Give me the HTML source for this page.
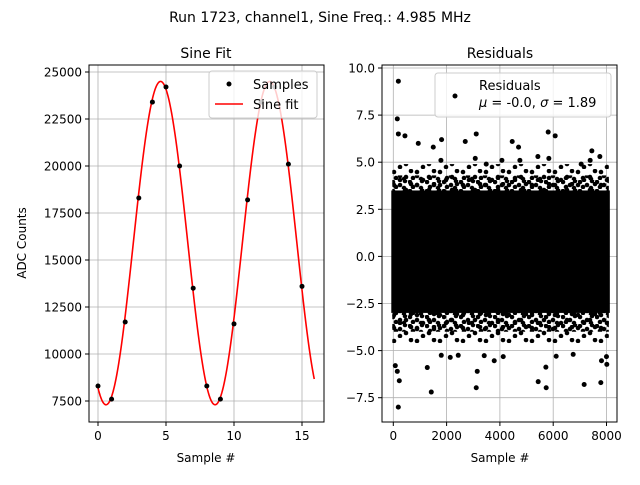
<!DOCTYPE html>
<html><head><meta charset="utf-8"><style>
body{margin:0;background:#fff;font-family:"Liberation Sans","DejaVu Sans",sans-serif}
svg text{font-family:"DejaVu Sans","Liberation Sans",sans-serif}
</style></head><body>
<svg id="c" width="640" height="480" viewBox="0 0 640 480" xmlns="http://www.w3.org/2000/svg">
<defs>
<pattern id="fz" width="17" height="9" patternUnits="userSpaceOnUse"><circle cx="2" cy="2" r="2.3" fill="#000"/><circle cx="9" cy="5" r="2.3" fill="#000"/><circle cx="14" cy="1" r="2.3" fill="#000"/><circle cx="5" cy="7" r="2.3" fill="#000"/><circle cx="13" cy="8" r="2.3" fill="#000"/></pattern>
<pattern id="fz2" width="23" height="13" patternUnits="userSpaceOnUse"><circle cx="3" cy="3" r="2.3" fill="#000"/><circle cx="15" cy="8" r="2.3" fill="#000"/><circle cx="9" cy="11" r="2.3" fill="#000"/><circle cx="20" cy="2" r="2.3" fill="#000"/></pattern>
</defs>
<rect width="640" height="480" fill="#fff"/>
<text x="320" y="22" text-anchor="middle" font-size="14">Run 1723, channel1, Sine Freq.: 4.985 MHz</text>
<g id="L"></g><g id="R"></g>
</svg>
<script>
const sampleX=[0,1,2,3,4,5,6,7,8,9,10,11,12,13,14,15];
const sampleY=[8300,7600,11700,18300,23400,24200,20000,13500,8300,7600,11600,18200,23400,24200,20100,13600];
const fitAmp=[8600];const fitOffset=[15900];const fitPeriod=[8.02];const fitPeak=[4.6];
const xTicksL=[0,5,10,15];const yTicksL=[7500,10000,12500,15000,17500,20000,22500,25000];
const xTicksR=[0,2000,4000,6000,8000];const yTicksR=[-7.5,-5,-2.5,0,2.5,5,7.5,10];
const yTickLabR=["−7.5","−5.0","−2.5","0.0","2.5","5.0","7.5","10.0"];
const coreBand=[-3.0,3.5];const fuzzBand=[-4.0,4.3];const fuzzBand2=[-4.6,4.9];const resXRange=[0,8050];
const outX=[190,150,190,437,937,1500,1812,2700,3112,4462,4700,5812,6075,7450,7750,1787,3075,3487,4075,4750,5425,5837,7050,7387,188,225,1275,1425,3112,3150,1800,2137,2437,3412,3787,4125,5437,5737,5725,6112,6750,7162,7787,7812,8012,7999,75,150];
const outY=[9.3,7.3,6.5,6.4,6.0,5.8,6.2,6.1,6.5,6.1,5.8,6.6,6.4,5.6,5.3,5.1,5.2,4.9,5.1,5.1,5.3,5.2,4.9,5.1,-8.0,-6.6,-5.9,-7.2,-6.97,-6.1,-5.25,-5.36,-5.25,-5.27,-5.54,-5.32,-6.65,-6.97,-5.88,-5.3,-5.2,-6.8,-6.7,-5.54,-5.73,-5.32,-5.8,-6.1];
const NS="http://www.w3.org/2000/svg";
function mk(p,t,a){const e=document.createElementNS(NS,t);for(const k in a)e.setAttribute(k,a[k]);p.appendChild(e);return e;}
const L=document.getElementById('L');
const lx=v=>98+v*13.6, ly=v=>401-(v-7500)*(47/2500);
const Lb={x0:89,x1:324,y0:65,y1:422};
mk(L,'rect',{x:Lb.x0,y:Lb.y0,width:Lb.x1-Lb.x0,height:Lb.y1-Lb.y0,fill:'#fff'});
xTicksL.forEach(v=>{const g=mk(L,'line',{x1:lx(v),x2:lx(v),y1:Lb.y0,y2:Lb.y1,stroke:'#b0b0b0','stroke-width':0.8});

mk(L,'line',{x1:lx(v),x2:lx(v),y1:Lb.y1,y2:Lb.y1+4,stroke:'#000'});
const t=mk(L,'text',{x:lx(v),y:Lb.y1+18,'text-anchor':'middle','font-size':12});t.textContent=v;
});
yTicksL.forEach(v=>{const g=mk(L,'line',{x1:Lb.x0,x2:Lb.x1,y1:ly(v),y2:ly(v),stroke:'#b0b0b0','stroke-width':0.8});

mk(L,'line',{x1:Lb.x0-4,x2:Lb.x0,y1:ly(v),y2:ly(v),stroke:'#000'});
const t=mk(L,'text',{x:Lb.x0-7,y:ly(v)+4.5,'text-anchor':'end','font-size':12});t.textContent=v;
});
let d='';for(let i=0;i<=300;i++){const x=15.9*i/300;const y=fitOffset[0]+fitAmp[0]*Math.cos(2*Math.PI*(x-fitPeak[0])/fitPeriod[0]);d+=(i?'L':'M')+lx(x).toFixed(2)+' '+ly(y).toFixed(2);}
const fl=mk(L,'path',{d:d,fill:'none',stroke:'#f00','stroke-width':1.6});

sampleX.forEach((x,i)=>{const c=mk(L,'circle',{cx:lx(x),cy:ly(sampleY[i]),r:2.5,fill:'#000'});
});
const lg=mk(L,'g',{});
mk(lg,'rect',{x:209,y:71,width:108,height:47,rx:3,fill:'#fff','fill-opacity':0.8,stroke:'#ccc'});
mk(lg,'circle',{cx:229,cy:84,r:2.5,fill:'#000'});
let t=mk(lg,'text',{x:253,y:89,'font-size':13});t.textContent='Samples';
mk(lg,'line',{x1:215,x2:243,y1:104,y2:104,stroke:'#f00','stroke-width':1.6});
t=mk(lg,'text',{x:253,y:109,'font-size':13});t.textContent='Sine fit';
mk(L,'rect',{x:Lb.x0,y:Lb.y0,width:Lb.x1-Lb.x0,height:Lb.y1-Lb.y0,fill:'none',stroke:'#000','stroke-width':1});
t=mk(L,'text',{x:206,y:58,'text-anchor':'middle','font-size':14});t.textContent='Sine Fit';

t=mk(L,'text',{x:206,y:462,'text-anchor':'middle','font-size':12});t.textContent='Sample #';

t=mk(L,'text',{x:26,y:243,'text-anchor':'middle','font-size':12,transform:'rotate(-90 26 243)'});t.textContent='ADC Counts';

const R=document.getElementById('R');
const rx=v=>393.3+v*(53.3/2000), ry=v=>68+(10-v)*18.84;
const Rb={x0:382,x1:617,y0:65,y1:422};
mk(R,'rect',{x:Rb.x0,y:Rb.y0,width:Rb.x1-Rb.x0,height:Rb.y1-Rb.y0,fill:'#fff'});
xTicksR.forEach(v=>{const g=mk(R,'line',{x1:rx(v),x2:rx(v),y1:Rb.y0,y2:Rb.y1,stroke:'#b0b0b0','stroke-width':0.8});

mk(R,'line',{x1:rx(v),x2:rx(v),y1:Rb.y1,y2:Rb.y1+4,stroke:'#000'});
const t=mk(R,'text',{x:rx(v),y:Rb.y1+18,'text-anchor':'middle','font-size':12});t.textContent=v;
});
yTicksR.forEach((v,i)=>{const g=mk(R,'line',{x1:Rb.x0,x2:Rb.x1,y1:ry(v),y2:ry(v),stroke:'#b0b0b0','stroke-width':0.8});

mk(R,'line',{x1:Rb.x0-4,x2:Rb.x0,y1:ry(v),y2:ry(v),stroke:'#000'});
const t=mk(R,'text',{x:Rb.x0-7,y:ry(v)+4.5,'text-anchor':'end','font-size':12});t.textContent=yTickLabR[i];
});
const bw=rx(resXRange[1])-rx(resXRange[0]);
const fz2=mk(R,'rect',{x:rx(resXRange[0])-1,y:ry(fuzzBand2[1]),width:bw+2,height:ry(fuzzBand2[0])-ry(fuzzBand2[1]),fill:'url(#fz2)'});

const fz=mk(R,'rect',{x:rx(resXRange[0])-1,y:ry(fuzzBand[1]),width:bw+2,height:ry(fuzzBand[0])-ry(fuzzBand[1]),fill:'url(#fz)'});

const cb=mk(R,'rect',{x:rx(resXRange[0])-2,y:ry(coreBand[1]),width:bw+4,height:ry(coreBand[0])-ry(coreBand[1]),fill:'#000'});

outX.forEach((x,i)=>{const c=mk(R,'circle',{cx:rx(x),cy:ry(outY[i]),r:2.5,fill:'#000'});
});
const lg2=mk(R,'g',{});
mk(lg2,'rect',{x:435,y:73,width:176,height:44,rx:3,fill:'#fff','fill-opacity':0.8,stroke:'#ccc'});
mk(lg2,'circle',{cx:455,cy:96,r:2.5,fill:'#000'});
t=mk(lg2,'text',{x:479,y:90,'font-size':13});t.textContent='Residuals';
t=mk(lg2,'text',{x:479,y:107,'font-size':13});t.innerHTML='<tspan font-style="italic">μ</tspan> = -0.0, <tspan font-style="italic">σ</tspan> = 1.89';
mk(R,'rect',{x:Rb.x0,y:Rb.y0,width:Rb.x1-Rb.x0,height:Rb.y1-Rb.y0,fill:'none',stroke:'#000','stroke-width':1});
t=mk(R,'text',{x:500,y:58,'text-anchor':'middle','font-size':14});t.textContent='Residuals';

t=mk(R,'text',{x:500,y:462,'text-anchor':'middle','font-size':12});t.textContent='Sample #';

</script>
</body></html>
